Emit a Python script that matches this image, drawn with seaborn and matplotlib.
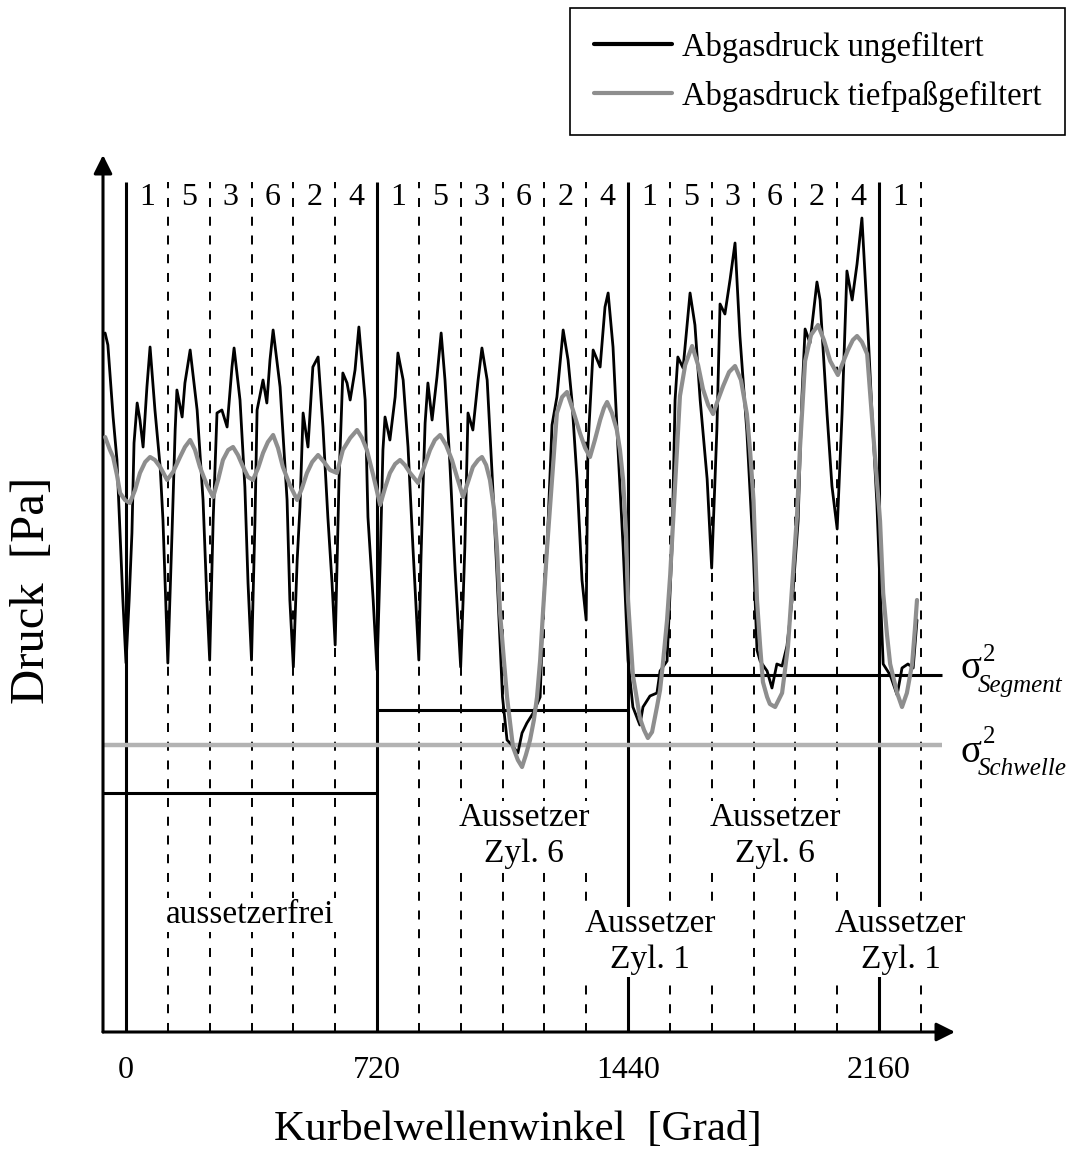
import matplotlib
matplotlib.use("Agg")
import matplotlib.pyplot as plt
import pandas as pd
import seaborn as sns

# ---------------- data ----------------
# crank angle [deg] and exhaust pressure (arbitrary units, axis has no scale)
black_angle = [-60, -52, -37, -26, -17, -9, 0, 9, 17, 23,
               32, 40, 49, 60, 69, 83, 98, 106, 115, 120,
               132, 141, 146, 161, 169, 184, 204, 221, 232, 240,
               250, 261, 275, 290, 304, 310, 327, 341, 350, 360,
               370, 376, 393, 404, 413, 422, 442, 462, 470, 480,
               491, 499, 508, 522, 536, 551, 565, 579, 591, 600,
               611, 622, 634, 643, 657, 668, 686, 694, 709, 720,
               729, 737, 743, 757, 772, 780, 795, 809, 823, 840,
               846, 852, 858, 866, 878, 892, 904, 915, 929, 944,
               960, 967, 972, 981, 995, 1010, 1021, 1036, 1050, 1064,
               1080, 1093, 1107, 1124, 1136, 1150, 1168, 1188, 1196, 1208,
               1222, 1236, 1254, 1268, 1279, 1294, 1308, 1320, 1325, 1340,
               1360, 1374, 1383, 1397, 1411, 1426, 1440, 1454, 1474, 1483,
               1503, 1523, 1532, 1552, 1566, 1575, 1583, 1598, 1618, 1632,
               1647, 1667, 1680, 1695, 1704, 1718, 1733, 1747, 1761, 1781,
               1800, 1810, 1819, 1839, 1853, 1867, 1882, 1896, 1913, 1928,
               1939, 1948, 1962, 1982, 1991, 2011, 2025, 2040, 2054, 2068,
               2083, 2097, 2111, 2126, 2140, 2154, 2163, 2172, 2192, 2212,
               2226, 2243, 2258, 2269]
black_pressure = [699, 687, 615, 572, 499, 432, 369, 432, 499, 589,
                  629, 612, 585, 645, 685, 622, 565, 512, 419, 369,
                  499, 602, 642, 615, 649, 682, 622, 532, 432, 372,
                  512, 619, 622, 605, 665, 684, 632, 545, 449, 372,
                  512, 622, 652, 629, 672, 702, 645, 532, 432, 365,
                  472, 525, 619, 585, 665, 675, 605, 515, 449, 387,
                  552, 659, 649, 632, 662, 705, 632, 515, 432, 362,
                  469, 582, 615, 592, 635, 679, 652, 585, 485, 372,
                  472, 545, 609, 649, 612, 655, 699, 652, 569, 462,
                  365, 432, 485, 619, 602, 652, 684, 652, 559, 459,
                  335, 292, 287, 279, 299, 309, 319, 335, 419, 485,
                  607, 635, 702, 672, 632, 552, 452, 412, 585, 682,
                  665, 725, 739, 685, 585, 485, 372, 325, 307, 325,
                  336, 339, 361, 371, 482, 632, 675, 664, 739, 707,
                  632, 553, 464, 603, 728, 718, 753, 789, 696, 600,
                  475, 382, 371, 361, 344, 368, 366, 386, 439, 511,
                  636, 703, 689, 750, 732, 618, 546, 503, 618, 761,
                  732, 768, 814, 718, 618, 528, 446, 368, 357, 337,
                  364, 368, 364, 412]

gray_angle = [-60, -46, -37, -26, -17, -3, 11, 26, 40, 55,
              69, 83, 98, 118, 135, 155, 169, 184, 198, 212,
              232, 250, 264, 278, 293, 307, 321, 336, 350, 364,
              379, 393, 407, 422, 436, 450, 470, 491, 505, 519,
              534, 551, 568, 585, 605, 622, 643, 663, 677, 691,
              709, 729, 743, 757, 772, 786, 800, 815, 838, 855,
              872, 886, 901, 918, 935, 952, 967, 981, 995, 1010,
              1021, 1033, 1044, 1056, 1064, 1073, 1084, 1093, 1110, 1124,
              1136, 1147, 1159, 1170, 1179, 1188, 1196, 1208, 1222, 1236,
              1251, 1265, 1282, 1302, 1317, 1331, 1345, 1360, 1371, 1380,
              1394, 1408, 1417, 1426, 1434, 1440, 1454, 1466, 1474, 1486,
              1497, 1509, 1523, 1532, 1540, 1552, 1561, 1575, 1589, 1604,
              1624, 1641, 1655, 1670, 1684, 1698, 1713, 1730, 1747, 1764,
              1781, 1790, 1800, 1810, 1819, 1827, 1839, 1847, 1862, 1882,
              1899, 1913, 1925, 1933, 1948, 1965, 1985, 2002, 2020, 2042,
              2057, 2071, 2085, 2097, 2111, 2126, 2143, 2163, 2172, 2183,
              2192, 2212, 2226, 2240, 2255, 2263, 2269]
gray_pressure = [595, 582, 575, 557, 539, 532, 529, 542, 559, 570,
                 575, 572, 565, 552, 560, 575, 585, 592, 582, 565,
                 547, 535, 552, 572, 582, 585, 577, 565, 555, 552,
                 564, 579, 590, 597, 584, 565, 547, 532, 544, 559,
                 570, 577, 570, 562, 559, 582, 594, 602, 594, 582,
                 557, 527, 544, 559, 568, 572, 567, 559, 549, 565,
                 582, 592, 597, 587, 572, 552, 535, 550, 565, 572,
                 575, 567, 552, 522, 485, 419, 372, 335, 285, 272,
                 265, 277, 292, 312, 335, 372, 419, 485, 552, 619,
                 635, 640, 622, 599, 584, 575, 592, 612, 624, 630,
                 619, 602, 582, 552, 502, 432, 357, 332, 314, 302,
                 294, 300, 325, 342, 368, 412, 457, 546, 636, 667,
                 686, 667, 643, 627, 618, 632, 646, 660, 666, 652,
                 618, 582, 532, 432, 386, 350, 335, 328, 325, 339,
                 386, 457, 518, 582, 671, 697, 707, 692, 671, 657,
                 670, 682, 692, 696, 690, 678, 600, 511, 439, 397,
                 368, 339, 325, 339, 368, 403, 432]

series_names = ["Abgasdruck ungefiltert", "Abgasdruck tiefpaßgefiltert"]
series_colors = ["#000000", "#8e8e8e"]

cycle_bounds = [0, 720, 1440, 2160]
cylinder_bounds = [120, 240, 360, 480, 600, 840, 960, 1080, 1200, 1320,
                   1560, 1680, 1800, 1920, 2040, 2280]
cylinder_centers = [60, 180, 300, 420, 540, 660, 780, 900, 1020, 1140,
                    1260, 1380, 1500, 1620, 1740, 1860, 1980, 2100, 2220]
cylinder_labels = ["1", "5", "3", "6", "2", "4", "1", "5", "3", "6",
                   "2", "4", "1", "5", "3", "6", "2", "4", "1"]
xtick_values = [0, 720, 1440, 2160]

segment_start = [-66, 720, 1440]
segment_end = [720, 1440, 2341]
segment_variance = [239, 322, 357]
threshold_variance = 287

note_texts = ["aussetzerfrei", "Aussetzer\nZyl. 6", "Aussetzer\nZyl. 1",
              "Aussetzer\nZyl. 6", "Aussetzer\nZyl. 1"]
note_angle = [356, 1142, 1503, 1862, 2222]
note_pressure = [117, 196, 90, 196, 90]

# ---------------- styling ----------------
sns.set_theme(style="white")
plt.rcParams["font.family"] = ["Liberation Serif", "DejaVu Serif"]
plt.rcParams["lines.scale_dashes"] = False
plt.rcParams["text.color"] = "black"
plt.rcParams["axes.labelcolor"] = "black"
plt.rcParams["xtick.color"] = "black"
plt.rcParams["ytick.color"] = "black"

W, H = 1070, 1161
fig = plt.figure(figsize=(W / 100, H / 100), dpi=100)
ax = fig.add_axes([103 / W, 129 / H, 852 / W, 877 / H])

df = pd.concat([
    pd.DataFrame({"angle": black_angle, "pressure": black_pressure,
                  "series": series_names[0]}),
    pd.DataFrame({"angle": gray_angle, "pressure": gray_pressure,
                  "series": series_names[1]}),
], ignore_index=True)

sns.lineplot(data=df, x="angle", y="pressure", hue="series",
             hue_order=series_names,
             palette=dict(zip(series_names, series_colors)),
             estimator=None, sort=False, ax=ax)
curve_lines = ax.get_lines()
curve_lines[0].set_linewidth(2.0)
curve_lines[0].set_zorder(3)
curve_lines[1].set_linewidth(3.0)
curve_lines[1].set_zorder(4)

# cycle / cylinder separators
ax.vlines(cycle_bounds, 0, 850, colors="black", linewidth=2.2, zorder=1)
ax.vlines(cylinder_bounds, 0, 850, colors="black", linewidth=1.4,
          linestyles=[(0, (6.5, 7.0))], zorder=1)

# variance levels
ax.hlines(threshold_variance, -66, 2341, colors="#b3b3b3", linewidth=3.2,
          zorder=2)
ax.hlines(segment_variance, segment_start, segment_end, colors="black",
          linewidth=2.2, zorder=2)

# cylinder firing order
for c, lab in zip(cylinder_centers, cylinder_labels):
    ax.text(c, 827, lab, ha="center", va="baseline", fontsize=23, zorder=6,
            color="black")

# annotations
for t, xa, yp in zip(note_texts, note_angle, note_pressure):
    ax.text(xa, yp, t, ha="center", va="center", fontsize=24,
            linespacing=1.25, zorder=6, color="black",
            bbox=dict(facecolor="white", edgecolor="none", pad=1.0))

# sigma labels to the right of the plot
trans = ax.get_yaxis_transform()
for yb, y2, ys, sub in [(364, 377, 346, "Segment"),
                        (279, 295, 263, "Schwelle")]:
    ax.text(1.006, yb, "σ", transform=trans, ha="left", va="center",
            fontsize=28, clip_on=False, color="black")
    ax.text(1.033, y2, "2", transform=trans, ha="left", va="center",
            fontsize=18, clip_on=False, color="black")
    ax.text(1.027, ys, sub, transform=trans, ha="left", va="center",
            fontsize=18, style="italic", clip_on=False, color="black")

# axes, arrows
ax.set_xlim(-66, 2378)
ax.set_ylim(0, 877)
for s in ax.spines.values():
    s.set_visible(False)
arrow = dict(arrowstyle="-|>", color="black", lw=2.2, mutation_scale=28,
             shrinkA=0, shrinkB=0)
ax.annotate("", xy=(1, 0), xytext=(0, 0), xycoords="axes fraction",
            arrowprops=arrow, annotation_clip=False)
ax.annotate("", xy=(0, 1), xytext=(0, 0), xycoords="axes fraction",
            arrowprops=arrow, annotation_clip=False)

ax.set_xticks(xtick_values)
ax.set_xticklabels([str(v) for v in xtick_values])
ax.set_yticks([])
ax.tick_params(axis="x", length=0, pad=17, labelsize=23, labelcolor="black")

ax.set_xlabel("Kurbelwellenwinkel  [Grad]", fontsize=31, color="black")
ax.xaxis.set_label_coords(0.487, -0.089)
ax.set_ylabel("Druck  [Pa]", fontsize=35, color="black")
ax.yaxis.set_label_coords(-0.058, 0.504)

# legend
old = ax.get_legend()
handles = list(old.legend_handles)
labels = [t.get_text() for t in old.get_texts()]
old.remove()
leg = ax.legend(handles, labels, loc="upper right",
                bbox_to_anchor=(1065 / W, 1 - 8 / H),
                bbox_transform=fig.transFigure,
                frameon=True, fancybox=False, framealpha=1,
                edgecolor="black", fontsize=23.5, handlelength=2.4,
                handletextpad=0.3, borderpad=0.72, labelspacing=0.56,
                borderaxespad=0, labelcolor="black")
leg.get_frame().set_linewidth(1.2)
for h, c in zip(leg.get_lines(), series_colors):
    h.set_linewidth(3.0)
    h.set_color(c)

fig.savefig("out.png", dpi=100, facecolor="white")
